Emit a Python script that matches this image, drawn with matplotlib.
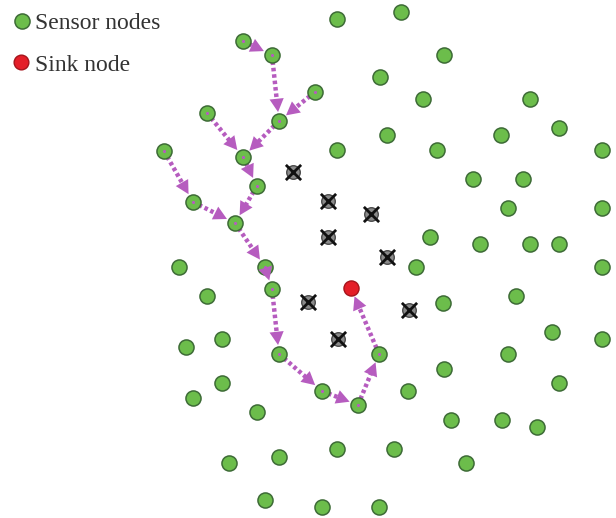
import numpy as np
import matplotlib
matplotlib.use("Agg")
import matplotlib.pyplot as plt

# ---- data (image coordinates, y grows downward) ----
sensor_x = [337, 401, 243, 272, 444, 380, 315, 423, 530, 207, 279, 387, 501, 559,
            164, 243, 337, 437, 602, 473, 523, 257, 193, 508, 602, 235, 430, 480,
            530, 559, 179, 265, 416, 602, 207, 272, 443, 516, 552, 602, 186, 222,
            279, 379, 508, 444, 222, 322, 559, 193, 408, 358, 257, 451, 537, 502,
            337, 394, 279, 229, 466, 265, 322, 379]
sensor_y = [19, 12, 41, 55, 55, 77, 92, 99, 99, 113, 121, 135, 135, 128,
            151, 157, 150, 150, 150, 179, 179, 186, 202, 208, 208, 223, 237, 244,
            244, 244, 267, 267, 267, 267, 296, 289, 303, 296, 332, 339, 347, 339,
            354, 354, 354, 369, 383, 391, 383, 398, 391, 405, 412, 420, 427, 420,
            449, 449, 457, 463, 463, 500, 507, 507]

failed_x = [293, 328, 371, 328, 387, 308, 409, 338]
failed_y = [172, 201, 214, 237, 257, 302, 310, 339]

sink_x = [351]
sink_y = [288]

# routing edges: (from_x, from_y) -> (to_x, to_y)
edge_from_x = [243, 272, 315, 207, 279, 243, 164, 257, 193, 235, 265, 272, 279, 322, 358, 379]
edge_from_y = [41, 55, 92, 113, 121, 157, 151, 186, 202, 223, 267, 289, 354, 391, 405, 354]
edge_to_x = [272, 279, 279, 243, 243, 257, 193, 235, 235, 265, 272, 279, 322, 358, 379, 351]
edge_to_y = [55, 121, 121, 157, 157, 186, 202, 223, 223, 267, 289, 354, 391, 405, 354, 288]

legend_labels = ["Sensor nodes", "Sink node"]

# ---- styles ----
GREEN = "#6cbd4b"
GREEN_EDGE = "#3d6b36"
RED = "#e41e28"
RED_EDGE = "#a5141b"
ARROW = "#b65cbf"
TXT = "#333333"

fig = plt.figure(figsize=(6.16, 5.18), dpi=100)
ax = fig.add_axes([0, 0, 1, 1])
ax.set_xlim(0, 616)
ax.set_ylim(518, 0)
ax.axis("off")

# edges (dotted line + solid head)
tip_gap = 9.0
for fx, fy, tx, ty in zip(edge_from_x, edge_from_y, edge_to_x, edge_to_y):
    d = np.array([tx - fx, ty - fy], dtype=float)
    L = np.hypot(*d)
    u = d / L
    tip = np.array([tx, ty]) - u * tip_gap
    base = tip - u * 8.0
    ax.plot([fx, base[0]], [fy, base[1]], color=ARROW, lw=3.2,
            linestyle=(0, (0.8, 0.65)), dash_capstyle="butt", zorder=1)
    ax.annotate("", xy=tip, xytext=(fx, fy),
                arrowprops=dict(arrowstyle="-|>,head_length=0.6,head_width=0.32",
                                color=ARROW, lw=0, shrinkA=0, shrinkB=0,
                                mutation_scale=16), zorder=4)

# sensor nodes
ax.scatter(sensor_x, sensor_y, s=118, c=GREEN, edgecolors=GREEN_EDGE,
           linewidths=1.1, zorder=2)
# pink centre dots at forwarding nodes
ax.scatter(edge_from_x, edge_from_y, s=5, c=ARROW, linewidths=0, zorder=3)

# failed nodes
ax.scatter(failed_x, failed_y, s=95, c="#8a8a8a", edgecolors="#4a4a4a",
           linewidths=1.0, zorder=2)
ax.scatter(failed_x, failed_y, s=120, marker="x", c="#111111",
           linewidths=2.0, zorder=3)

# sink
ax.scatter(sink_x, sink_y, s=118, c=RED, edgecolors=RED_EDGE,
           linewidths=1.0, zorder=2)

# legend
ax.scatter([22], [21], s=118, c=GREEN, edgecolors=GREEN_EDGE, linewidths=1.1, zorder=2)
ax.scatter([21], [62], s=112, c=RED, edgecolors=RED_EDGE, linewidths=1.0, zorder=2)
ax.text(35, 29, legend_labels[0], fontsize=17, family="Liberation Serif",
        color=TXT, va="baseline", ha="left")
ax.text(35, 71, legend_labels[1], fontsize=17, family="Liberation Serif",
        color=TXT, va="baseline", ha="left")

fig.savefig("out.png", dpi=100)
